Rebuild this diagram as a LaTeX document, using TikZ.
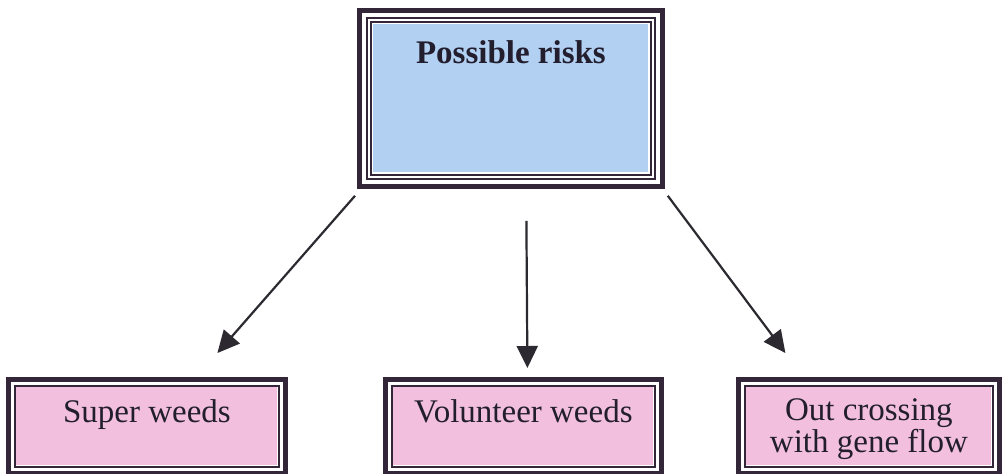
\documentclass[tikz,border=0pt]{standalone}
\usepackage{fontspec}
\setmainfont{Liberation Serif}
\usetikzlibrary{arrows.meta}

\definecolor{riskblue}{RGB}{178,208,242}
\definecolor{riskpink}{RGB}{242,192,222}
\definecolor{riskdark}{RGB}{34,30,46}
\definecolor{riskframe}{RGB}{50,38,56}
\definecolor{riskarrow}{RGB}{44,42,48}

\begin{document}
\begin{tikzpicture}
  [ x=0.5pt, y=-0.5pt
  , rbox/.style={shape=rectangle, inner sep=0pt, anchor=north west,
                 text=riskdark, align=center}
  , topbox/.style={rbox, fill=riskblue, minimum width=137.5pt,
                   minimum height=74pt, text height=19.5pt, text depth=54.5pt,
                   font=\fontsize{16.5}{19}\selectfont\bfseries}
  , subbox/.style={rbox, fill=riskpink, minimum height=39pt,
                   text height=17.5pt, text depth=21.5pt,
                   font=\fontsize{16.5}{15}\selectfont}
  , frame/.style={draw=riskframe, line width=1pt}
  , thick frame/.style={draw=riskframe, line width=2.5pt}
  , link/.style={draw=riskarrow, line width=1.1pt,
                 -{Triangle[length=11pt,width=10.5pt]}}
  ]

  \useasboundingbox[fill=white] (0,0) rectangle (1002,473);

  \node[topbox]                      (risks) at (373,24)  {Possible risks};
  \node[subbox, minimum width=130.5pt] (super) at (16,387)  {Super weeds};
  \node[subbox, minimum width=130pt]   (volun) at (393,387) {Volunteer weeds};
  \node[subbox, minimum width=122.5pt, text height=32.5pt, text depth=6.5pt]
                                     (outx)  at (746,387) {Out crossing\\with gene flow};

  % frames round the boxes
  \draw[frame]       ([shift={(-2,-2)}]risks.north west)     rectangle ([shift={(2,2)}]risks.south east);
  \draw[frame]       ([shift={(-6,-6)}]risks.north west)     rectangle ([shift={(6,6)}]risks.south east);
  \draw[thick frame] ([shift={(-13.5,-13.5)}]risks.north west) rectangle ([shift={(13.5,13.5)}]risks.south east);

  \foreach \n in {super,volun,outx} {
    \draw[frame]       ([shift={(-1.5,-1.5)}]\n.north west) rectangle ([shift={(1.5,1.5)}]\n.south east);
    \draw[thick frame] ([shift={(-7.5,-7.5)}]\n.north west) rectangle ([shift={(7.5,7.5)}]\n.south east);
  }

  \draw[link] ([shift={(-18,23)}]risks.south west) -- ([shift={(70.5,-34)}]super.north);
  \draw[link] ([shift={(15.5,48)}]risks.south)     -- ([shift={(4,-19)}]volun.north);
  \draw[link] ([shift={(19,23)}]risks.south east)  -- ([shift={(-83.5,-34)}]outx.north);

\end{tikzpicture}
\end{document}
